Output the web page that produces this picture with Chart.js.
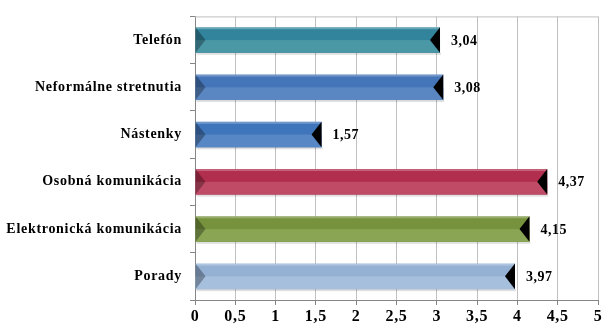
<!DOCTYPE html>
<html>
<head>
<meta charset="utf-8">
<script src="https://cdn.jsdelivr.net/npm/chart.js@4.4.1/dist/chart.umd.min.js"></script>
<style>
  html, body { margin: 0; padding: 0; background: #fff; }
  #wrap { width: 613px; height: 329px; }
</style>
</head>
<body>
<div id="wrap"><canvas id="c"></canvas></div>
<script>
const kategorie = ['Telefón', 'Neformálne stretnutia', 'Nástenky', 'Osobná komunikácia', 'Elektronická komunikácia', 'Porady'];
const hodnoty = [3.04, 3.08, 1.57, 4.37, 4.15, 3.97];
const farby = ['#31849b', '#4475b8', '#3f75ba', '#b22e4e', '#76923c', '#94b1d4'];
const farbySvetle = ['#4a97a6', '#5a87c2', '#5787c4', '#c04b66', '#8aa553', '#a5bfdd'];

const font = 'Liberation Serif, Times New Roman, serif';

function fmt(v) { return String(v).replace('.', ','); }

// roztiahnute pismo ako v origináli
const rozostup = {
  id: 'rozostup',
  beforeDraw(chart) { chart.ctx.letterSpacing = '0.7px'; }
};

// bevel look + value labels
const bevel = {
  id: 'bevel',
  afterDatasetsDraw(chart) {
    const ctx = chart.ctx;
    const meta = chart.getDatasetMeta(0);
    meta.data.forEach((bar, i) => {
      const x0 = bar.base, x1 = bar.x;
      const top = bar.y - bar.height / 2, bot = bar.y + bar.height / 2, mid = bar.y;
      ctx.save();
      ctx.fillStyle = farbySvetle[i];
      ctx.fillRect(x0, mid, x1 - x0, bot - mid);
      ctx.fillStyle = 'rgba(255,255,255,0.25)';
      ctx.fillRect(x0, top, x1 - x0, 2);
      ctx.fillStyle = 'rgba(0,0,0,0.3)';
      ctx.beginPath();
      ctx.moveTo(x0, top);
      ctx.lineTo(x0 + 10, mid);
      ctx.lineTo(x0, bot);
      ctx.closePath();
      ctx.fill();
      ctx.fillStyle = '#000';
      ctx.beginPath();
      ctx.moveTo(x1, top);
      ctx.lineTo(x1 - 10, mid);
      ctx.lineTo(x1, bot);
      ctx.closePath();
      ctx.fill();
      ctx.fillStyle = 'rgba(0,0,0,0.12)';
      ctx.fillRect(x0 + 1, bot, x1 - x0, 2);
      ctx.fillStyle = '#000';
      ctx.letterSpacing = '0.5px';
      ctx.font = 'bold 14px ' + font;
      ctx.textBaseline = 'middle';
      ctx.textAlign = 'left';
      ctx.fillText(fmt(hodnoty[i]), x1 + 11, mid + 1);
      ctx.restore();
    });
    const a = chart.chartArea;
    ctx.save();
    ctx.strokeStyle = '#bfbfbf';
    ctx.lineWidth = 1;
    ctx.beginPath();
    ctx.moveTo(a.left, a.top + 0.5);
    ctx.lineTo(a.right, a.top + 0.5);
    ctx.stroke();
    ctx.restore();
  }
};

new Chart(document.getElementById('c'), {
  type: 'bar',
  data: {
    labels: kategorie,
    datasets: [{
      data: hodnoty,
      backgroundColor: farby,
      borderWidth: 0,
      categoryPercentage: 1,
      barPercentage: 0.54
    }]
  },
  options: {
    indexAxis: 'y',
    responsive: true,
    maintainAspectRatio: false,
    animation: false,
    layout: { padding: { top: 10, right: 15, left: 0, bottom: 0 } },
    plugins: { legend: { display: false }, tooltip: { enabled: false } },
    scales: {
      x: {
        min: 0, max: 5,
        ticks: {
          stepSize: 0.5,
          color: '#000',
          font: { family: font, size: 16, weight: 'bold' },
          padding: 2,
          maxRotation: 0,
          autoSkip: false,
          callback: v => fmt(v)
        },
        grid: { color: '#c0c0c0', tickLength: 5, tickColor: '#868686' },
        border: { color: '#868686' },
        afterFit: s => { s.height = 29; }
      },
      y: {
        ticks: {
          color: '#000',
          font: { family: font, size: 14, weight: 'bold' },
          padding: 8
        },
        grid: { drawOnChartArea: false, tickLength: 5, color: '#868686', offset: true },
        border: { color: '#868686' },
        afterFit: s => { s.width = 195; }
      }
    }
  },
  plugins: [rozostup, bevel]
});
</script>
</body>
</html>
